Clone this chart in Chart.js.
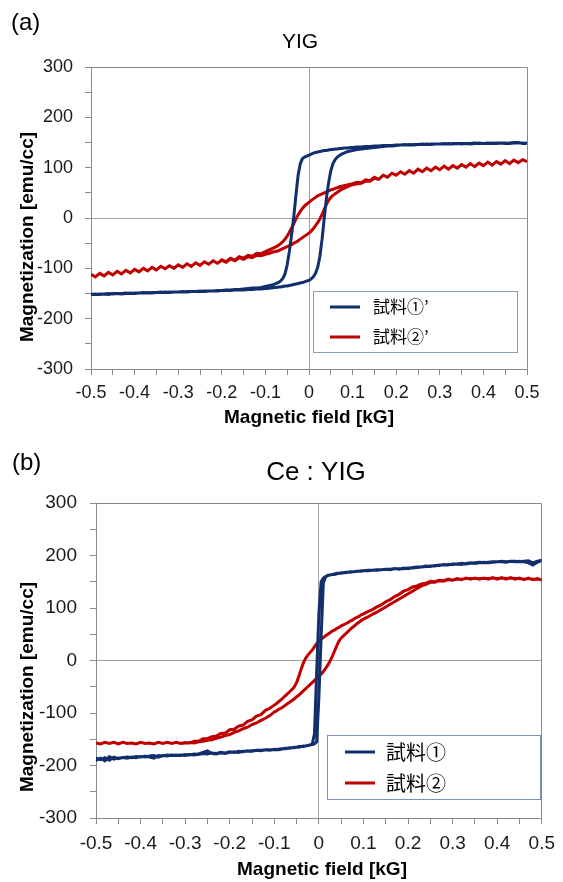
<!DOCTYPE html>
<html>
<head>
<meta charset="utf-8">
<script src="https://cdn.jsdelivr.net/npm/chart.js@4.4.1/dist/chart.umd.min.js"></script>
<style>
  html, body { margin: 0; padding: 0; background: #fff; }
  #wrap { position: relative; width: 563px; height: 882px; }
  canvas { position: absolute; left: 0; }
  #chartA { top: 0; width: 563px; height: 440px; }
  #chartB { top: 440px; width: 563px; height: 442px; }
</style>
</head>
<body>
<div id="wrap">
  <canvas id="chartA" width="563" height="440"></canvas>
  <canvas id="chartB" width="563" height="442"></canvas>
</div>
<script>
/* Hysteresis loops, YIG (a) and Ce:YIG (b).
   Field in kG, magnetization in emu/cc.
   "Down" = sweep from +0.5 to -0.5, "Up" = sweep back. */

const field = [
  -0.50, -0.49, -0.48, -0.47, -0.46, -0.45, -0.44, -0.43, -0.42, -0.41,
  -0.40, -0.39, -0.38, -0.37, -0.36, -0.35, -0.34, -0.33, -0.32, -0.31,
  -0.30, -0.29, -0.28, -0.27, -0.26, -0.25, -0.24, -0.23, -0.22, -0.21,
  -0.20, -0.19, -0.18, -0.17, -0.16, -0.15, -0.14, -0.13, -0.12, -0.11,
  -0.100, -0.095, -0.090, -0.085, -0.080, -0.075, -0.070, -0.065, -0.060, -0.055,
  -0.050, -0.045, -0.040, -0.035, -0.030, -0.025, -0.020, -0.015, -0.010, -0.005,
  0, 0.005, 0.010, 0.015, 0.020, 0.025, 0.030, 0.035, 0.040, 0.045,
  0.050, 0.055, 0.060, 0.065, 0.070, 0.075, 0.080, 0.085, 0.090, 0.095,
  0.100,
  0.11, 0.12, 0.13, 0.14, 0.15, 0.16, 0.17, 0.18, 0.19, 0.20,
  0.21, 0.22, 0.23, 0.24, 0.25, 0.26, 0.27, 0.28, 0.29, 0.30,
  0.31, 0.32, 0.33, 0.34, 0.35, 0.36, 0.37, 0.38, 0.39, 0.40,
  0.41, 0.42, 0.43, 0.44, 0.45, 0.46, 0.47, 0.48, 0.49, 0.50
];

/* (a) YIG — 試料①' */
const yig1Down = [
  -151, -152, -151, -151, -152, -150, -150, -151, -150, -149,
  -150, -149, -149, -148, -149, -148, -148, -147, -148, -147,
  -147, -146, -147, -146, -146, -145, -146, -145, -145, -144,
  -144, -143, -143, -142, -142, -141, -140, -139, -139, -138,
  -136, -135, -134, -133, -132, -130, -128, -125, -120, -111,
  -93, -66, -34, 2, 45, 85, 108, 118, 121, 123,
  125, 127, 129, 130, 131, 132, 133, 134, 134, 135,
  136, 136, 137, 137, 138, 138, 139, 139, 139, 140,
  140,
  141, 141, 142, 142, 143, 143, 144, 144, 144, 145,
  145, 145, 146, 145, 146, 146, 147, 146, 147, 147,
  147, 148, 147, 148, 148, 148, 147, 148, 149, 148,
  148, 149, 148, 149, 149, 148, 149, 150, 148, 149
];
const yig1Up = [
  -152, -151, -152, -151, -150, -151, -150, -150, -149, -150,
  -149, -149, -148, -149, -148, -148, -147, -148, -147, -147,
  -147, -147, -146, -146, -146, -146, -145, -145, -145, -145,
  -144, -144, -144, -143, -143, -143, -142, -142, -141, -141,
  -140, -140, -139, -139, -138, -138, -137, -137, -136, -135,
  -135, -134, -133, -132, -131, -130, -129, -128, -127, -125,
  -124, -121, -117, -110, -98, -76, -42, 0, 40, 70,
  94, 108, 116, 121, 124, 127, 129, 131, 132, 133,
  134,
  136, 137, 138, 139, 140, 141, 142, 143, 143, 144,
  145, 146, 145, 146, 146, 147, 146, 147, 147, 147,
  148, 147, 148, 148, 147, 148, 148, 149, 148, 148,
  149, 148, 149, 149, 148, 149, 150, 149, 149, 148
];

/* (a) YIG — 試料②' */
const yig2Down = [
  -112, -117, -110, -115, -108, -113, -106, -111, -104, -109,
  -102, -107, -100, -105, -98, -103, -96, -101, -95, -100,
  -93, -98, -91, -96, -89, -94, -87, -92, -85, -90,
  -83, -87, -80, -84, -77, -80, -74, -76, -70, -71,
  -67, -65, -63, -61, -59, -57, -54, -51, -47, -42,
  -36, -28, -20, -11, -2, 6, 13, 19, 24, 28,
  31, 35, 38, 41, 44, 46, 48, 50, 52, 54,
  56, 57, 59, 60, 62, 63, 64, 65, 66, 67,
  68,
  71, 70, 76, 74, 81, 77, 85, 81, 89, 85,
  92, 87, 94, 89, 97, 92, 99, 94, 101, 96,
  103, 97, 104, 99, 106, 101, 108, 102, 109, 104,
  111, 105, 112, 107, 114, 108, 115, 110, 116, 112
];
const yig2Up = [
  -112, -117, -110, -115, -108, -113, -106, -111, -104, -109,
  -102, -107, -100, -105, -98, -103, -96, -101, -95, -100,
  -93, -98, -91, -96, -89, -94, -87, -92, -85, -90,
  -84, -88, -81, -85, -79, -82, -77, -79, -74, -75,
  -72, -71, -70, -68, -67, -66, -65, -63, -61, -59,
  -57, -55, -53, -50, -48, -45, -42, -39, -36, -33,
  -30, -26, -21, -15, -9, -2, 7, 17, 27, 35,
  41, 45, 48, 51, 54, 57, 59, 61, 63, 65,
  66,
  68, 69, 73, 73, 79, 77, 85, 81, 89, 85,
  92, 87, 94, 89, 97, 92, 99, 94, 101, 96,
  103, 97, 104, 99, 106, 101, 108, 102, 109, 104,
  111, 105, 112, 107, 114, 108, 115, 110, 116, 112
];

/* (b) Ce:YIG — 試料① */
const ceyig1Down = [
  -190, -186, -191, -183, -188, -186, -185, -186, -184, -185,
  -183, -184, -182, -181, -184, -181, -182, -180, -181, -180,
  -181, -179, -180, -178, -175, -172, -177, -178, -176, -177,
  -175, -174, -175, -173, -173, -172, -171, -172, -170, -170,
  -170, -169, -170, -169, -168, -168, -167, -167, -166, -166,
  -165, -165, -164, -164, -163, -162, -161, -159, -140, -22,
  90, 150, 157, 160, 162, 163, 164, 165, 166, 166,
  167, 167, 168, 168, 169, 169, 169, 170, 170, 171,
  171,
  172, 172, 173, 173, 174, 174, 175, 174, 176, 175,
  177, 178, 178, 180, 179, 181, 181, 183, 182, 184,
  184, 183, 185, 186, 185, 186, 187, 186, 187, 188,
  188, 187, 189, 188, 189, 188, 186, 182, 187, 191
];
const ceyig1Up = [
  -186, -189, -185, -190, -184, -187, -185, -184, -185, -183,
  -184, -182, -184, -186, -181, -182, -180, -181, -180, -181,
  -179, -180, -178, -179, -177, -178, -176, -177, -175, -176,
  -174, -175, -173, -174, -172, -173, -171, -171, -170, -171,
  -169, -170, -169, -168, -168, -167, -167, -166, -166, -165,
  -165, -164, -164, -163, -163, -162, -161, -160, -159, -155,
  -70, 45, 148, 159, 162, 163, 164, 164, 165, 166,
  166, 167, 167, 168, 168, 169, 169, 170, 170, 170,
  171,
  171, 172, 172, 173, 174, 173, 175, 175, 175, 176,
  176, 177, 178, 179, 180, 180, 182, 182, 183, 183,
  184, 185, 184, 185, 186, 187, 186, 187, 188, 188,
  189, 188, 189, 189, 188, 189, 190, 186, 189, 191
];

/* (b) Ce:YIG — 試料② */
const ceyig2Down = [
  -157, -159, -156, -158, -156, -159, -156, -158, -157, -159,
  -156, -158, -157, -159, -156, -158, -156, -158, -156, -158,
  -156, -157, -154, -154, -149, -149, -145, -144, -139, -138,
  -132, -131, -125, -123, -116, -113, -106, -103, -95, -91,
  -85, -82, -78, -75, -71, -67, -63, -59, -55, -50,
  -42, -30, -17, -5, 4, 10, 15, 20, 26, 32,
  37, 41, 44, 47, 50, 53, 56, 58, 61, 63,
  66, 68, 70, 72, 75, 77, 80, 82, 84, 87,
  89,
  93, 97, 102, 106, 112, 116, 122, 126, 132, 135,
  140, 142, 146, 147, 151, 150, 153, 152, 155, 153,
  156, 154, 157, 155, 157, 155, 157, 155, 158, 155,
  158, 155, 158, 155, 157, 154, 157, 154, 156, 153
];
const ceyig2Up = [
  -157, -159, -156, -158, -156, -159, -156, -158, -157, -159,
  -156, -158, -157, -159, -156, -158, -156, -158, -156, -158,
  -157, -156, -157, -155, -154, -152, -151, -148, -146, -143,
  -141, -137, -134, -130, -127, -122, -119, -114, -110, -105,
  -98, -96, -93, -91, -88, -85, -82, -79, -76, -73,
  -69, -66, -62, -58, -54, -50, -46, -42, -38, -34,
  -30, -26, -21, -15, -9, -1, 8, 18, 28, 37,
  43, 47, 51, 55, 59, 63, 66, 70, 73, 76,
  79,
  83, 88, 92, 97, 102, 107, 112, 117, 122, 127,
  132, 137, 142, 145, 149, 149, 152, 151, 154, 153,
  155, 155, 156, 156, 156, 156, 156, 156, 157, 156,
  157, 156, 157, 156, 156, 155, 156, 155, 155, 154
];

const navy = '#112f6d';
const crimson = '#c00000';
const axisLine = '#8a8a8a';
const zeroLine = '#a0a0a0';
const latin = '"Liberation Sans", Arial, sans-serif';
const cjk = '"Noto Sans CJK JP", "Noto Sans", sans-serif';

// one closed loop: down sweep (right to left) then up sweep (left to right)
function loopPoints(down, up) {
  const pts = [];
  for (let i = field.length - 1; i >= 0; i--) pts.push({ x: field[i], y: down[i] });
  for (let i = 0; i < field.length; i++) pts.push({ x: field[i], y: up[i] });
  return pts;
}

function onStep(v, step) {
  const r = v / step;
  return Math.abs(r - Math.round(r)) < 1e-6;
}

// top and right edges of the plot box
const plotFrame = {
  id: 'plotFrame',
  beforeDatasetsDraw(chart) {
    const { ctx, chartArea: a } = chart;
    ctx.save();
    ctx.strokeStyle = axisLine;
    ctx.lineWidth = 1;
    ctx.beginPath();
    ctx.moveTo(Math.floor(a.left) + 0.5, Math.floor(a.top) + 0.5);
    ctx.lineTo(Math.floor(a.right) + 0.5, Math.floor(a.top) + 0.5);
    ctx.lineTo(Math.floor(a.right) + 0.5, Math.floor(a.bottom) + 0.5);
    ctx.stroke();
    ctx.restore();
  }
};

// boxed legend sitting inside the plot, lower right
const boxLegend = {
  id: 'boxLegend',
  afterDatasetsDraw(chart, args, o) {
    const ctx = chart.ctx;
    ctx.save();
    ctx.fillStyle = '#fff';
    ctx.fillRect(o.x, o.y, o.w, o.h);
    ctx.strokeStyle = o.border;
    ctx.lineWidth = 1;
    ctx.strokeRect(o.x + 0.5, o.y + 0.5, o.w, o.h);
    ctx.font = o.font;
    ctx.textBaseline = 'middle';
    ctx.textAlign = 'left';
    chart.data.datasets.forEach((ds, i) => {
      const y = o.y + o.row0 + i * o.rowGap;
      ctx.strokeStyle = ds.borderColor;
      ctx.lineWidth = 3;
      ctx.beginPath();
      ctx.moveTo(o.x + o.lineFrom, y);
      ctx.lineTo(o.x + o.lineTo, y);
      ctx.stroke();
      ctx.fillStyle = '#000';
      ctx.fillText(ds.label, o.x + o.textAt, y);
    });
    ctx.restore();
  }
};

// panel letter, title and axis titles
const figureText = {
  id: 'figureText',
  afterDraw(chart, args, o) {
    const ctx = chart.ctx;
    (o.items || []).forEach(t => {
      ctx.save();
      ctx.fillStyle = '#000';
      ctx.font = t.font;
      ctx.textAlign = t.align || 'center';
      ctx.textBaseline = 'middle';
      ctx.translate(t.x, t.y);
      if (t.rotate) ctx.rotate(t.rotate);
      ctx.fillText(t.text, 0, 0);
      ctx.restore();
    });
  }
};

function makeChart(id, sets, p) {
  return new Chart(document.getElementById(id), {
    type: 'scatter',
    data: {
      datasets: sets.map(s => ({
        label: s.label,
        data: loopPoints(s.down, s.up),
        showLine: true,
        borderColor: s.color,
        borderWidth: 3,
        pointRadius: 0,
        tension: 0,
        fill: false
      }))
    },
    options: {
      responsive: false,
      animation: false,
      events: [],
      layout: { padding: { top: p.top, right: p.right, left: 0, bottom: 0 } },
      plugins: {
        legend: { display: false },
        tooltip: { enabled: false },
        boxLegend: p.legend,
        figureText: { items: p.text }
      },
      scales: {
        x: {
          type: 'linear',
          position: 'bottom',
          min: -0.5,
          max: 0.5,
          afterFit: s => { s.height = p.xHeight; },
          ticks: {
            stepSize: 0.05,
            autoSkip: false,
            maxRotation: 0,
            padding: p.xPad,
            color: '#1a1a1a',
            font: { family: latin, size: p.tickSize },
            callback: v => onStep(v, 0.1) ? (Math.abs(v) < 1e-9 ? '0' : v.toFixed(1)) : ''
          },
          grid: {
            color: c => (c.tick && Math.abs(c.tick.value) < 1e-9) ? zeroLine : 'rgba(0,0,0,0)',
            tickColor: axisLine,
            tickLength: 6,
            lineWidth: 1
          },
          border: { color: axisLine, width: 1 }
        },
        y: {
          type: 'linear',
          position: 'left',
          min: -300,
          max: 300,
          afterFit: s => { s.width = p.yWidth; },
          ticks: {
            stepSize: 50,
            autoSkip: false,
            padding: p.yPad,
            color: '#1a1a1a',
            font: { family: latin, size: p.tickSize },
            callback: v => onStep(v, 100) ? String(v) : ''
          },
          grid: {
            color: c => (c.tick && c.tick.value === 0) ? zeroLine : 'rgba(0,0,0,0)',
            tickColor: axisLine,
            tickLength: 6,
            lineWidth: 1
          },
          border: { color: axisLine, width: 1 }
        }
      }
    },
    plugins: [plotFrame, boxLegend, figureText]
  });
}

makeChart('chartA', [
  { label: '試料①\u2019', down: yig1Down, up: yig1Up, color: navy },
  { label: '試料②\u2019', down: yig2Down, up: yig2Up, color: crimson }
], {
  top: 67, right: 36, yWidth: 91, xHeight: 71, xPad: 7, yPad: 12, tickSize: 18,
  legend: { x: 313, y: 291, w: 204, h: 61, row0: 16, rowGap: 30, lineFrom: 17, lineTo: 47, textAt: 60,
            font: '17px ' + cjk, border: '#8c9cbc' },
  text: [
    { text: '(a)', x: 11, y: 23, align: 'left', font: '24px ' + latin },
    { text: 'YIG', x: 300, y: 42, font: '21px ' + latin },
    { text: 'Magnetization [emu/cc]', x: 28, y: 237, rotate: -Math.PI / 2, font: 'bold 19px ' + latin },
    { text: 'Magnetic field [kG]', x: 309, y: 418, font: 'bold 19px ' + latin }
  ]
});

makeChart('chartB', [
  { label: '試料①', down: ceyig1Down, up: ceyig1Up, color: navy },
  { label: '試料②', down: ceyig2Down, up: ceyig2Up, color: crimson }
], {
  top: 63, right: 16, yWidth: 96, xHeight: 64, xPad: 8, yPad: 13, tickSize: 19,
  legend: { x: 327, y: 295, w: 213, h: 64, row0: 17, rowGap: 31, lineFrom: 18, lineTo: 48, textAt: 59,
            font: '20px ' + cjk, border: '#7d8fb8' },
  text: [
    { text: '(b)', x: 12, y: 23, align: 'left', font: '24px ' + latin },
    { text: 'Ce : YIG', x: 316, y: 33, font: '26px ' + latin },
    { text: 'Magnetization [emu/cc]', x: 28, y: 247, rotate: -Math.PI / 2, font: 'bold 19px ' + latin },
    { text: 'Magnetic field [kG]', x: 322, y: 430, font: 'bold 19px ' + latin }
  ]
});
</script>
</body>
</html>
